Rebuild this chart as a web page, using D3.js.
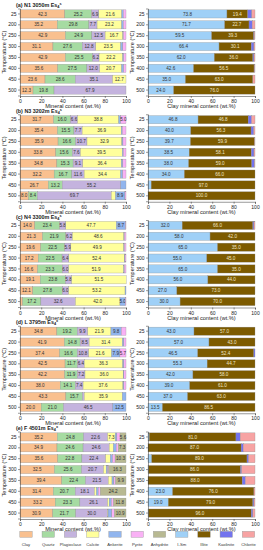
<!DOCTYPE html>
<html>
<head>
<meta charset="utf-8">
<script src="https://cdn.jsdelivr.net/npm/d3@7"></script>
<style>
  body { margin: 0; background: #fff; }
  svg { font-family: "Liberation Sans", Arial, sans-serif; display: block; }
</style>
</head>
<body>
<div id="chart"></div>
<script>
// Sample data
const temps = ['25', '200', '250', '300', '350', '400', '450', '500'];
const minerals = ['Clay', 'Quartz', 'Plagioclase', 'Calcite', 'Ankerite', 'Pyrite', 'Anhydrite'];
const clays = ['I-Sm', 'Illite', 'Kaolinite', 'Chlorite'];
const ticks = [0, 20, 40, 60, 80, 100];

const titles = [
  ['(a) N1 3050m Es', 's'],
  ['(b) N3 3202m Es', 's'],
  ['(c) N4 3300m Es', 's'],
  ['(d) L 3795m Es', 'x'],
  ['(e) F 4501m Es', 'x']
];

// whole rock: clay, quartz, plagioclase, calcite, ankerite, pyrite, anhydrite
const rockA = [
  [42.3, 25.2, 6.9, 21.6, 1.5, 2.5, 0],
  [35.2, 29.8, 7.7, 23.2, 1.6, 2.5, 0],
  [42.9, 24.9, 12.5, 16.7, 0.5, 2.5, 0],
  [31.1, 27.6, 12.8, 23.5, 2.0, 3.0, 0],
  [42.9, 25.5, 6.2, 22.2, 1.0, 2.2, 0],
  [35.6, 27.5, 12.0, 20.7, 2.0, 2.2, 0],
  [23.6, 28.6, 35.1, 12.7, 0, 0, 0],
  [12.3, 19.8, 67.9, 0, 0, 0, 0]
];
const rockB = [
  [31.7, 16.0, 6.6, 38.8, 1.9, 5.0, 0],
  [35.4, 15.5, 7.7, 36.9, 1.0, 3.5, 0],
  [35.9, 16.6, 10.7, 32.9, 1.0, 2.9, 0],
  [33.8, 15.6, 7.6, 39.5, 1.0, 2.5, 0],
  [34.8, 15.3, 9.1, 36.4, 1.4, 3.0, 0],
  [32.2, 16.7, 11.6, 34.4, 2.0, 3.1, 0],
  [26.7, 13.2, 55.2, 0, 4.9, 0, 0],
  [8.0, 8.4, 69.7, 4.0, 8.9, 1.0, 0]
];
const rockC = [
  [14.0, 23.4, 5.8, 47.7, 8.7, 0.4, 0],
  [21.3, 21.9, 6.2, 48.6, 0.5, 1.5, 0],
  [19.6, 22.5, 5.9, 49.9, 0.6, 1.5, 0],
  [17.2, 22.5, 6.4, 52.4, 0.5, 1.0, 0],
  [16.6, 23.3, 6.0, 51.9, 0.7, 1.5, 0],
  [19.1, 23.8, 5.8, 51.5, 0, 0, 0],
  [12.1, 27.8, 6.0, 53.2, 0.9, 0, 0],
  [2.5, 17.2, 32.6, 42.0, 5.0, 0.7, 0]
];
const rockD = [
  [34.8, 19.2, 9.9, 21.9, 9.8, 4.4, 0],
  [41.9, 14.8, 8.5, 31.4, 1.4, 2.0, 0],
  [37.4, 16.6, 10.8, 21.6, 7.9, 5.7, 0],
  [42.5, 11.7, 6.4, 36.3, 1.1, 2.0, 0],
  [42.2, 11.9, 7.2, 36.0, 0.7, 2.0, 0],
  [38.0, 14.1, 7.4, 37.6, 0.9, 2.0, 0],
  [43.3, 15.7, 1.6, 35.9, 3.5, 0, 0],
  [20.0, 21.0, 46.5, 0, 12.5, 0, 0]
];
const rockE = [
  [35.2, 24.8, 22.6, 7.3, 1.5, 3.0, 5.6],
  [34.9, 24.6, 24.6, 4.0, 2.6, 2.0, 7.3],
  [35.6, 22.8, 22.4, 4.5, 2.0, 2.4, 10.3],
  [32.5, 25.6, 20.7, 2.5, 1.4, 1.0, 16.3],
  [39.4, 22.4, 21.5, 3.5, 1.8, 1.5, 9.9],
  [31.4, 20.7, 18.1, 2.0, 1.6, 2.0, 24.2],
  [33.2, 23.3, 26.1, 1.5, 2.1, 2.0, 11.8],
  [30.9, 21.7, 30.0, 0.5, 3.5, 2.5, 10.9]
];

// clay minerals: I-Sm, illite, kaolinite, chlorite
const clayA = [
  [73.8, 19.4, 3.8, 3.0],
  [71.7, 22.7, 3.0, 2.6],
  [59.5, 39.3, 0.5, 0.7],
  [66.4, 30.1, 2.5, 1.0],
  [62.0, 36.0, 1.0, 1.0],
  [42.6, 56.5, 0.4, 0.5],
  [35.0, 63.0, 0, 2.0],
  [24.0, 76.0, 0, 0]
];
const clayB = [
  [46.8, 46.8, 3.2, 3.2],
  [40.0, 56.3, 2.5, 1.2],
  [39.7, 59.9, 0, 0.4],
  [38.5, 58.1, 2.4, 1.0],
  [38.0, 59.0, 2.5, 0.5],
  [34.0, 66.0, 0, 0],
  [3.0, 97.0, 0, 0],
  [0, 100.0, 0, 0]
];
const clayC = [
  [32.0, 66.0, 1.0, 1.0],
  [58.0, 42.0, 0, 0],
  [65.0, 35.0, 0, 0],
  [55.0, 45.0, 0, 0],
  [65.0, 35.0, 0, 0],
  [56.0, 44.0, 0, 0],
  [27.0, 73.0, 0, 0],
  [30.0, 70.0, 0, 0]
];
const clayD = [
  [43.0, 57.0, 0, 0],
  [57.0, 43.0, 0, 0],
  [46.5, 52.4, 1.1, 0],
  [55.3, 44.7, 0, 0],
  [42.0, 58.0, 0, 0],
  [39.0, 61.0, 0, 0],
  [37.0, 63.0, 0, 0],
  [13.5, 86.5, 0, 0]
];
const clayE = [
  [1.2, 81.0, 4.0, 13.8],
  [0, 87.0, 2.0, 11.0],
  [3.5, 89.0, 1.5, 6.0],
  [0.5, 86.0, 1.0, 12.5],
  [0, 88.0, 3.0, 9.0],
  [23.0, 76.0, 0, 1.0],
  [19.0, 79.0, 1.0, 1.0],
  [0.5, 96.0, 1.5, 2.0]
];

const rockSets = [rockA, rockB, rockC, rockD, rockE];
const claySets = [clayA, clayB, clayC, clayD, clayE];

const rockColors = ['#f9c08f', '#a6dba2', '#c4b3de', '#ffff9c', '#91b5ee', '#f9b1f5', '#b8b992'];
const clayColors = ['#9fd0f7', '#7d5b00', '#7373ee', '#f7a3a3'];
const legendColors = rockColors.concat(clayColors);
const legendNames = minerals.concat(clays);

const width = 263;
const height = 550;

const svg = d3.select('#chart')
  .append('svg')
  .attr('width', width)
  .attr('height', height);

const leftX = d3.scaleLinear().domain([0, 100]).range([20, 126]);
const rightX = d3.scaleLinear().domain([0, 100]).range([148, 255]);

function drawPlot(g, x, rows, names, colors, showLabel, axisY, xTitle) {
  const y = d3.scaleBand()
    .domain(temps)
    .range([axisY - 87.5, axisY - 0.5])
    .paddingInner(0.25)
    .paddingOuter(0.125);

  const series = d3.stack()
    .keys(d3.range(names.length))
    .value((d, k) => d[k])(rows);

  const layer = g.selectAll('g.layer')
    .data(series)
    .enter()
    .append('g')
    .attr('class', 'layer')
    .attr('fill', (d, i) => colors[i]);

  layer.selectAll('rect')
    .data((d) => d.map((v, j) => ({ v: v, t: temps[j] })))
    .enter()
    .filter((d) => d.v[1] - d.v[0] > 0)
    .append('rect')
    .attr('x', (d) => x(d.v[0]))
    .attr('y', (d) => y(d.t))
    .attr('width', (d) => x(d.v[1]) - x(d.v[0]))
    .attr('height', y.bandwidth())
    .attr('stroke', '#8a8a8a')
    .attr('stroke-width', 0.3);

  layer.each(function (d, i) {
    if (!showLabel[i]) return;
    d3.select(this).selectAll('text')
      .data(d.map((v, j) => ({ v: v, t: temps[j] })).filter((e) => e.v[1] - e.v[0] >= 5))
      .enter()
      .append('text')
      .attr('x', (e) => x((e.v[0] + e.v[1]) / 2))
      .attr('y', (e) => y(e.t) + y.bandwidth() / 2 + 1.6)
      .attr('text-anchor', 'middle')
      .attr('font-size', 4.6)
      .attr('fill', colors[i] === '#7d5b00' ? '#f0e6c8' : '#333')
      .text((e) => (e.v[1] - e.v[0]).toFixed(1));
  });

  const yAxis = d3.axisLeft(y).tickSize(2).tickPadding(1.5);
  g.append('g')
    .attr('transform', `translate(${x.range()[0]},0)`)
    .call(yAxis)
    .call((a) => a.selectAll('text').attr('font-size', 5).attr('fill', '#222'))
    .call((a) => a.selectAll('path,line').attr('stroke', '#333').attr('stroke-width', 0.5));

  const xAxis = d3.axisBottom(x).tickValues(ticks).tickSize(2).tickPadding(1.5);
  g.append('g')
    .attr('transform', `translate(0,${axisY})`)
    .call(xAxis)
    .call((a) => a.selectAll('text').attr('font-size', 5).attr('fill', '#222'))
    .call((a) => a.selectAll('path,line').attr('stroke', '#333').attr('stroke-width', 0.5));

  const mid = (x.range()[0] + x.range()[1]) / 2;
  g.append('text')
    .attr('x', mid)
    .attr('y', axisY + 12)
    .attr('text-anchor', 'middle')
    .attr('font-size', 5.6)
    .attr('fill', '#222')
    .text(xTitle);

  g.append('text')
    .attr('transform', `translate(${x.range()[0] - 14},${axisY - 44}) rotate(-90)`)
    .attr('text-anchor', 'middle')
    .attr('font-size', 5.6)
    .attr('fill', '#222')
    .text('Temperature (\u00b0C)');
}

const rockLabel = [true, true, true, true, true, true, true];
const clayLabel = [true, true, false, false];

rockSets.forEach((rows, i) => {
  const axisY = 96 + i * 105.75;
  const g = svg.append('g');
  drawPlot(g, leftX, rows, minerals, rockColors, rockLabel, axisY, 'Mineral content (wt.%)');
  const g2 = svg.append('g');
  drawPlot(g2, rightX, claySets[i], clays, clayColors, clayLabel, axisY, 'Clay mineral content (wt.%)');

  const t = svg.append('text')
    .attr('x', 16)
    .attr('y', axisY - 89)
    .attr('font-size', 5.4)
    .attr('font-weight', 'bold')
    .attr('fill', '#222')
    .text(titles[i][0]);
  t.append('tspan').attr('font-size', 3.8).attr('dy', 1.2).text('4');
  t.append('tspan').attr('font-size', 3.8).attr('dy', -3.2).text(titles[i][1]);
});

// legend
const legendX = d3.scalePoint()
  .domain(legendNames)
  .range([26, 248.5]);

const legend = svg.append('g')
  .selectAll('g')
  .data(legendNames)
  .enter()
  .append('g')
  .attr('transform', (d) => `translate(${legendX(d)},0)`);

legend.append('rect')
  .attr('x', -6.2)
  .attr('y', 531.3)
  .attr('width', 12.4)
  .attr('height', 6)
  .attr('fill', (d, i) => legendColors[i])
  .attr('stroke', '#999')
  .attr('stroke-width', 0.4);

legend.append('text')
  .attr('y', 545.5)
  .attr('text-anchor', 'middle')
  .attr('font-size', 4.2)
  .attr('fill', '#333')
  .text((d) => d);
</script>
</body>
</html>
